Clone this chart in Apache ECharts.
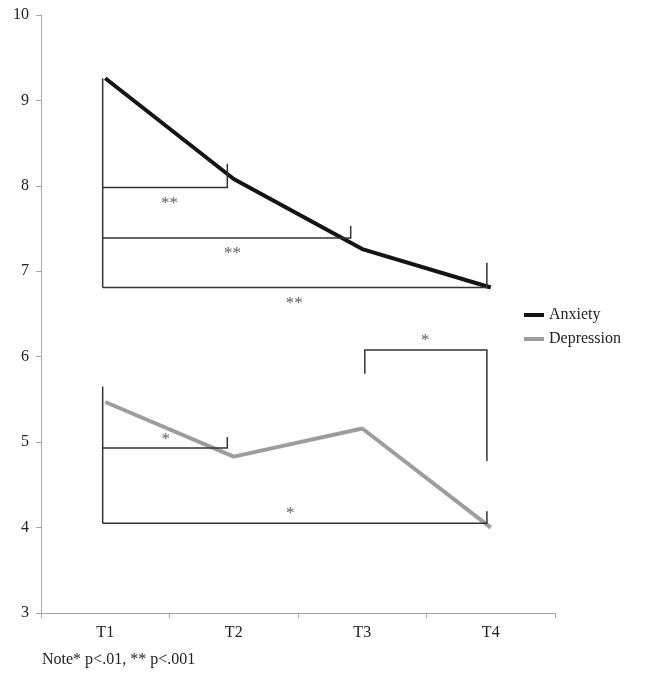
<!DOCTYPE html>
<html>
<head>
<meta charset="utf-8">
<script src="https://cdn.jsdelivr.net/npm/echarts@6/dist/echarts.min.js"></script>
<style>
  html, body { margin: 0; padding: 0; background: #fff; }
  #chart { width: 646px; height: 673px; }
</style>
</head>
<body>
<div id="chart"></div>
<script>
// ==================== data ====================
const categories = ['T1', 'T2', 'T3', 'T4'];
const anxiety = [9.26, 8.08, 7.26, 6.81];
const depression = [5.47, 4.83, 5.16, 4.00];

// significance brackets, x on a 0..4 band scale (category i centre = i + 0.5)
const anxietyBrackets = [
  [[0.48, 9.26], [0.48, 6.81]],
  [[0.48, 7.98], [1.45, 7.98], [1.45, 8.26]],
  [[0.48, 7.39], [2.41, 7.39], [2.41, 7.53]],
  [[0.48, 6.81], [3.47, 6.81], [3.47, 7.10]]
];
const depressionBrackets = [
  [[0.48, 5.65], [0.48, 4.05]],
  [[0.48, 4.93], [1.45, 4.93], [1.45, 5.06]],
  [[0.48, 4.05], [3.47, 4.05], [3.47, 4.19]],
  [[2.52, 5.80], [2.52, 6.08], [3.47, 6.08], [3.47, 4.78]]
];
const starLabels = [
  [1.00, 7.79, '**'],
  [1.49, 7.21, '**'],
  [1.97, 6.62, '**'],
  [0.97, 5.03, '*'],
  [1.94, 4.16, '*'],
  [2.99, 6.19, '*']
];
const noteText = 'Note* p<.01, ** p<.001';

// ==================== chart ====================
const SERIF = '"Liberation Serif", "DejaVu Serif", serif';
const chart = echarts.init(document.getElementById('chart'), null, { renderer: 'canvas' });

const bracketData = anxietyBrackets.concat(depressionBrackets).map(c => ({ coords: c }));

chart.setOption({
  animation: false,
  grid: { left: 41, right: 91, top: 15, bottom: 60 },
  legend: {
    data: ['Anxiety', 'Depression'],
    orient: 'vertical',
    left: 519,
    top: 302,
    icon: 'rect',
    itemWidth: 20,
    itemHeight: 4,
    itemGap: 8,
    textStyle: { fontFamily: SERIF, fontSize: 16, color: '#222' }
  },
  xAxis: [
    {
      type: 'category',
      data: categories,
      axisLine: { lineStyle: { color: '#a6a6a6' } },
      axisTick: { show: true, length: 5, lineStyle: { color: '#a6a6a6' } },
      axisLabel: { fontFamily: SERIF, fontSize: 16, color: '#222', margin: 12 }
    },
    { type: 'value', min: 0, max: 4, show: false }
  ],
  yAxis: {
    type: 'value',
    min: 3,
    max: 10,
    interval: 1,
    splitLine: { show: false },
    axisLine: { show: true, lineStyle: { color: '#a6a6a6' } },
    axisTick: { show: true, length: 5, lineStyle: { color: '#a6a6a6' } },
    axisLabel: { fontFamily: SERIF, fontSize: 16, color: '#222', margin: 12 }
  },
  graphic: [
    {
      type: 'text',
      left: 42,
      top: 652,
      style: { text: noteText, fontFamily: SERIF, fontSize: 16, fill: '#222' }
    }
  ],
  series: [
    {
      name: 'Anxiety',
      type: 'line',
      data: anxiety,
      symbol: 'none',
      color: '#141414',
      lineStyle: { width: 4, color: '#141414' },
      z: 3
    },
    {
      name: 'Depression',
      type: 'line',
      data: depression,
      symbol: 'none',
      color: '#9d9d9d',
      lineStyle: { width: 4, color: '#9d9d9d' },
      z: 3
    },
    {
      type: 'lines',
      coordinateSystem: 'cartesian2d',
      xAxisIndex: 1,
      polyline: true,
      silent: true,
      lineStyle: { color: '#333', width: 1.5, opacity: 1 },
      data: bracketData,
      z: 4
    },
    {
      type: 'scatter',
      xAxisIndex: 1,
      symbolSize: 0,
      silent: true,
      data: starLabels.map(s => ({ value: [s[0], s[1]], name: s[2] })),
      label: {
        show: true,
        position: 'inside',
        formatter: p => p.name,
        fontFamily: SERIF,
        fontSize: 17,
        color: '#333'
      },
      z: 5
    }
  ]
});
</script>
</body>
</html>
